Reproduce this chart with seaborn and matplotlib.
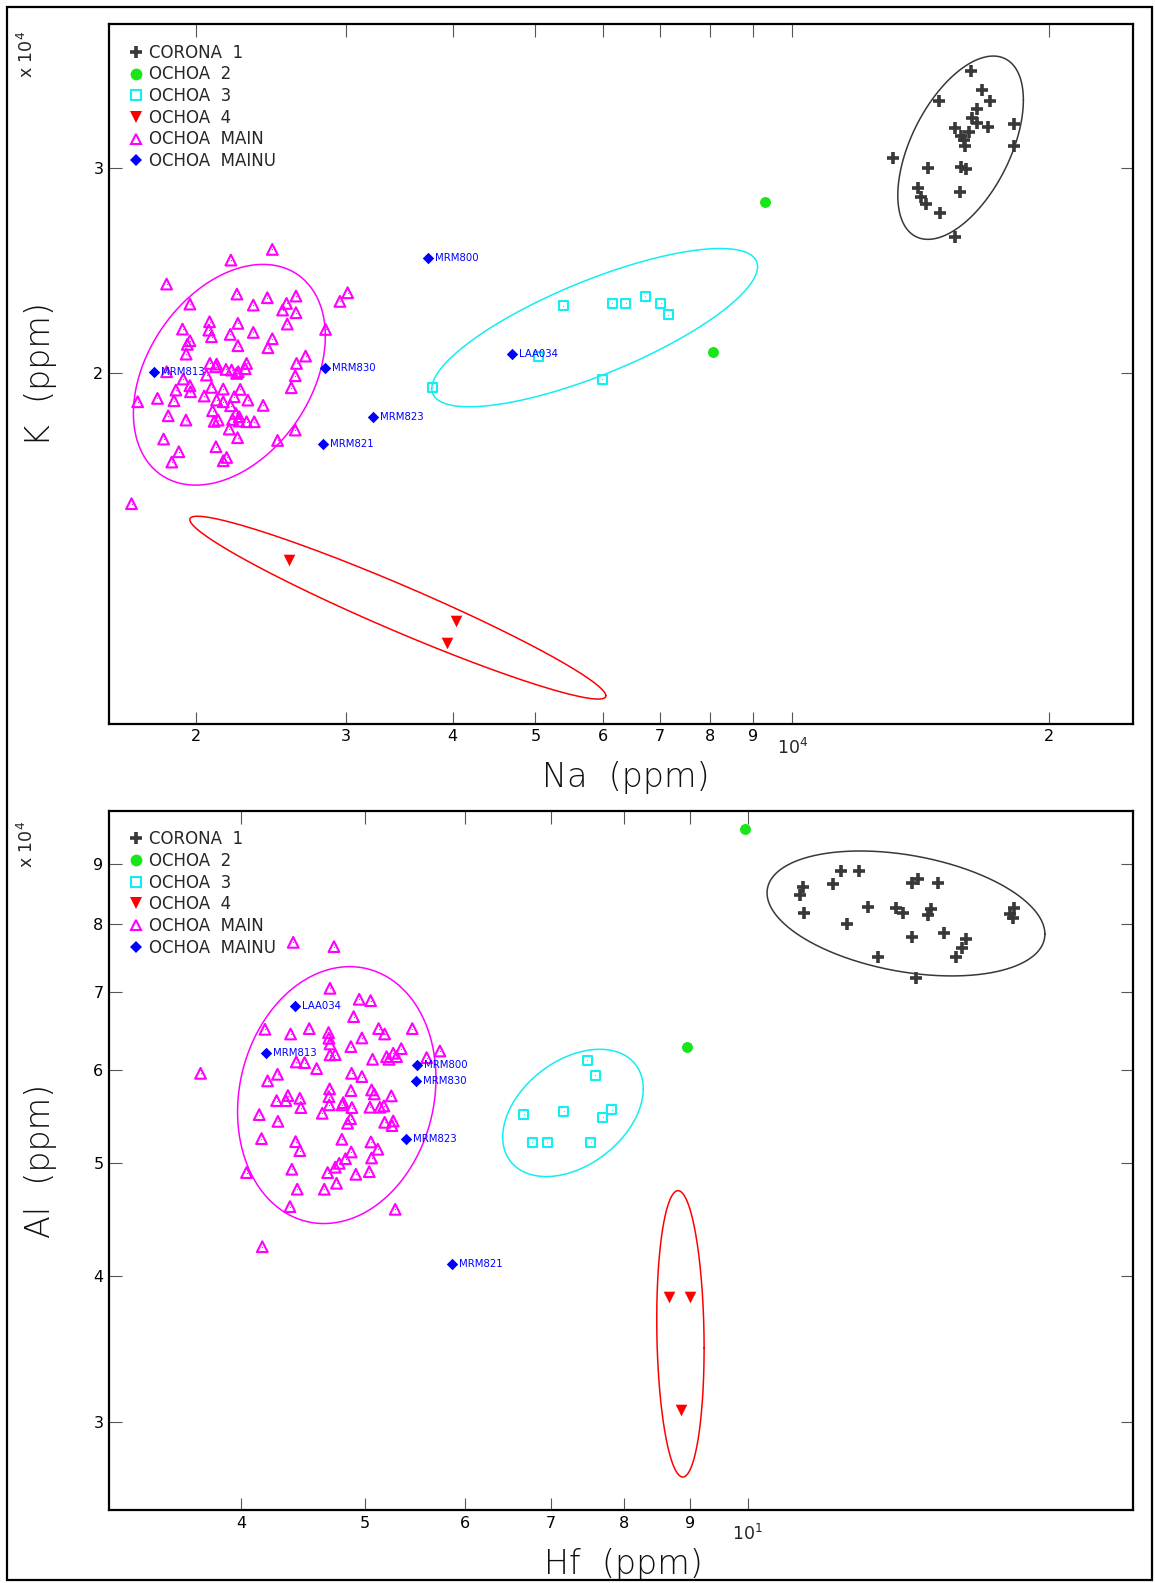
import numpy as np
import matplotlib
matplotlib.use("Agg")
import matplotlib.pyplot as plt
import matplotlib.transforms as mtransforms
import seaborn as sns
from matplotlib.lines import Line2D
from matplotlib.patches import Rectangle
from matplotlib.ticker import FixedLocator, FixedFormatter, NullLocator

sns.set_theme(style="white")
plt.rcParams['font.family'] = ['DejaVu Sans']

# ---------------- TOP PANEL: Na vs K (ppm) ----------------
corona_na = [16190, 16700, 14870, 17050, 16480, 16250, 16480, 16960, 18170, 15530, 16120, 15770, 15900,
             15930, 18170, 13120, 14440, 15770, 15970, 14040, 15730, 14170, 14340, 14900, 15530]
corona_k = [36270, 34980, 34190, 34190, 33690, 33070, 32770, 32520, 32690, 32410, 32190, 31900, 31690,
            31300, 31300, 30590, 29980, 30050, 29900, 28840, 28570, 28310, 27910, 27420, 26150]
ochoa2_na = [9302, 8072]
ochoa2_k = [28040, 20850]
ochoa3_na = [5390, 6150, 6380, 6722, 7013, 7159, 5040, 5986, 3790]
ochoa3_k = [22850, 22970, 22970, 23290, 22970, 22450, 20700, 19780, 19460]
ochoa4_na = [2570, 4040, 3942]
ochoa4_k = [13840, 12280, 11760]
main_na = [2458, 2198, 1848, 1968, 2234, 2425, 2335, 2620, 2554, 2527,
           2620, 2950, 3012, 2075, 2240, 2071, 1929, 2086, 2194, 2335,
           2559, 2838, 2458, 1968, 1954, 2240, 2429, 1948, 2689, 2624,
           2293, 2077, 2115, 2109, 2169, 2202, 2242, 2232, 2285, 2058,
           2615, 1933, 1895, 1968, 1971, 2086, 2153, 2254, 2587, 1803,
           1709, 1885, 2045, 2115, 2153, 2218, 2301, 2196, 2398, 2092,
           2228, 2248, 1856, 1947, 2101, 2124, 2208, 2293, 2341, 2246,
           2188, 2615, 1833, 2238, 2493, 1910, 2111, 1874, 2173, 2153,
           1681, 1848]
main_k = [25537, 25004, 23852, 22929, 23386, 23218, 22885, 23295, 22960, 22661,
          22543, 23051, 23447, 22145, 22074, 21784, 21827, 21501, 21600, 21685,
          22045, 21813, 21417, 21333, 21179, 21124, 21041, 20778, 20697, 20400,
          20400, 20400, 20373, 20266, 20161, 20135, 20069, 20003, 20188, 19938,
          19912, 19783, 19357, 19524, 19294, 19460, 19396, 19383, 19447, 19042,
          18917, 18954, 19131, 18979, 18917, 19105, 18979, 18769, 18782, 18584,
          18486, 18367, 18402, 18247, 18199, 18247, 18271, 18187, 18187, 18211,
          17927, 17892, 17577, 17624, 17529, 17143, 17313, 16798, 16952, 16842,
          15476, 20069]
mainu_names_top = ["MRM800", "LAA034", "MRM813", "MRM830", "MRM823", "MRM821"]
mainu_na = [3744, 4692, 1788, 2834, 3222, 2820]
mainu_k = [25130, 20770, 20040, 20200, 18350, 17400]
# ellipses: centre (ppm), half-extent in log10 decades (x, y), correlation
ell_top = {
    "corona": (15750, 31200, 0.0736, 0.0784, 0.52),
    "main": (2189, 19950, 0.1125, 0.0944, 0.35),
    "ochoa3": (5867, 21890, 0.1909, 0.0677, 0.77),
    "ochoa4": (3449, 12610, 0.2438, 0.0782, -0.963),
}

# ---------------- BOTTOM PANEL: Hf vs Al (ppm) ----------------
corona_hf = [11.83, 12.23, 11.67, 11.05, 10.99, 13.45, 13.61, 14.10, 11.07, 12.43, 13.07, 13.25, 13.92,
             13.86, 11.96, 13.45, 14.26, 14.84, 14.72, 14.57, 12.66, 16.06, 16.18, 16.14, 13.55]
corona_al = [88805, 88805, 86505, 85995, 84708, 86672, 87359, 86672, 81811, 82782, 82511, 81704, 82347,
             81437, 79957, 78040, 78553, 77633, 76270, 75027, 75027, 81544, 82511, 80906, 71996]
ochoa2_hf = [9.95, 8.96]
ochoa2_al = [96480, 62820]
ochoa3_hf = [7.48, 7.59, 6.67, 7.17, 7.82, 7.69, 6.77, 6.96, 7.53]
ochoa3_al = [61210, 59390, 55000, 55330, 55510, 54680, 52090, 52090, 52090]
ochoa4_hf = [8.677, 9.012, 8.866]
ochoa4_al = [38420, 38420, 30740]
main_hf = [4.395, 4.731, 4.697, 4.952, 5.055, 4.902, 4.176, 4.374, 4.524, 4.685,
           4.688, 4.697, 5.129, 5.185, 4.976, 5.451, 4.878, 5.343, 5.266, 5.203,
           5.298, 5.225, 5.730, 5.594, 4.697, 4.742, 4.419, 4.486, 5.073, 4.585,
           3.717, 4.272, 4.196, 4.884, 4.976, 4.694, 4.878, 5.064, 5.089, 5.248,
           4.353, 4.265, 4.337, 4.448, 4.456, 4.688, 4.691, 4.811, 4.802, 4.887,
           4.632, 5.049, 5.141, 5.178, 4.133, 4.275, 4.875, 4.849, 5.185, 5.266,
           5.254, 4.150, 4.414, 4.448, 4.799, 5.058, 5.122, 4.881, 4.831, 5.064,
           4.384, 4.039, 4.677, 4.742, 4.776, 4.922, 5.043, 4.753, 4.427, 4.649,
           4.369, 5.285, 4.156]
main_al = [77170, 76520, 70490, 68990, 68800, 66670, 65030, 64430, 65120, 64610,
           63890, 63180, 65120, 64430, 63930, 65120, 62850, 62600, 62030, 61620,
           61620, 61300, 62310, 61500, 61830, 61870, 60980, 60900, 61300, 60190,
           59630, 59520, 58750, 59630, 59250, 57830, 57640, 57710, 57260, 57040,
           57080, 56510, 56510, 56770, 55740, 56960, 56040, 56290, 56040, 55740,
           55120, 55780, 55780, 55920, 54980, 54250, 54540, 54050, 54150, 54290,
           53800, 52440, 52130, 51220, 52370, 52100, 51350, 51080, 50410, 50480,
           49370, 49050, 49050, 49570, 49950, 48880, 49140, 48030, 47470, 47470,
           45870, 45630, 42390]
mainu_names_bot = ["LAA034", "MRM813", "MRM800", "MRM830", "MRM823", "MRM821"]
mainu_hf = [4.411, 4.183, 5.500, 5.487, 5.388, 5.859]
mainu_al = [68130, 62110, 60620, 58780, 52380, 40990]
ell_bot = {
    "corona": (13.31, 81680, 0.1091, 0.0534, -0.33),
    "main": (4.755, 57130, 0.0779, 0.1098, 0.13),
    "ochoa3": (7.289, 55160, 0.0552, 0.0544, 0.38),
    "ochoa4": (8.852, 35710, 0.0186, 0.1224, -0.10),
}

legend_labels = ["CORONA  1", "OCHOA  2", "OCHOA  3", "OCHOA  4", "OCHOA  MAIN", "OCHOA  MAINU"]

# ticks
top_xt = [2000, 3000, 4000, 5000, 6000, 7000, 8000, 9000, 10000, 20000]
top_xl = ["2", "3", "4", "5", "6", "7", "8", "9", "", "2"]
top_yt = [20000, 30000]
top_yl = ["2", "3"]
bot_xt = [4, 5, 6, 7, 8, 9, 10]
bot_xl = ["4", "5", "6", "7", "8", "9", ""]
bot_yt = [30000, 40000, 50000, 60000, 70000, 80000, 90000]
bot_yl = ["3", "4", "5", "6", "7", "8", "9"]
decade_top = (10000, r"$\mathregular{10^{4}}$")
decade_bot = (10, r"$\mathregular{10^{1}}$")

C_COR = "#383838"
C_GRN = "#19e619"
C_CYN = "#12eef2"
C_RED = "#ff0000"
C_MAG = "#ff00ff"
C_BLU = "#0000ff"


def draw_ellipse(ax, params, color):
    cx, cy, sx, sy, rho = params
    t = np.linspace(0, 2 * np.pi, 500)
    S = np.array([[sx * sx, rho * sx * sy], [rho * sx * sy, sy * sy]])
    L = np.linalg.cholesky(S)
    pts = L @ np.vstack([np.cos(t), np.sin(t)])
    xs = 10 ** (np.log10(cx) + pts[0])
    ys = 10 ** (np.log10(cy) + pts[1])
    sns.lineplot(x=xs, y=ys, sort=False, estimator=None, ax=ax, color=color, lw=1.1, zorder=2)


def draw_panel(ax, cor, grn, cyn, red, mag, blu, names, ells):
    ax.set_xscale("log")
    ax.set_yscale("log")
    draw_ellipse(ax, ells["corona"], C_COR)
    draw_ellipse(ax, ells["main"], C_MAG)
    draw_ellipse(ax, ells["ochoa3"], C_CYN)
    draw_ellipse(ax, ells["ochoa4"], C_RED)
    sns.scatterplot(x=mag[0], y=mag[1], ax=ax, marker="^", s=60, facecolor="none",
                    edgecolor=C_MAG, linewidth=1.5, legend=False, zorder=3)
    sns.scatterplot(x=mag[0], y=mag[1], ax=ax, marker=".", s=3, color=C_MAG,
                    edgecolor=C_MAG, linewidth=0, legend=False, zorder=3)
    sns.scatterplot(x=cyn[0], y=cyn[1], ax=ax, marker="s", s=42, facecolor="none",
                    edgecolor=C_CYN, linewidth=1.5, legend=False, zorder=3)
    sns.scatterplot(x=cyn[0], y=cyn[1], ax=ax, marker=".", s=3, color=C_CYN,
                    edgecolor=C_CYN, linewidth=0, legend=False, zorder=3)
    sns.scatterplot(x=cor[0], y=cor[1], ax=ax, marker="+", s=70, color=C_COR,
                    linewidth=2.6, legend=False, zorder=3)
    sns.scatterplot(x=grn[0], y=grn[1], ax=ax, marker="o", s=62, color=C_GRN,
                    edgecolor=C_GRN, linewidth=0, legend=False, zorder=3)
    sns.scatterplot(x=red[0], y=red[1], ax=ax, marker="v", s=70, color=C_RED,
                    edgecolor=C_RED, linewidth=0, legend=False, zorder=3)
    sns.scatterplot(x=blu[0], y=blu[1], ax=ax, marker="D", s=34, color=C_BLU,
                    edgecolor=C_BLU, linewidth=0, legend=False, zorder=4)
    for nm, xv, yv in zip(names, blu[0], blu[1]):
        ax.annotate(nm, (xv, yv), xytext=(5, 0), textcoords="offset points",
                    ha="left", va="center", fontsize=7.3, color=C_BLU, zorder=5)

    handles = [
        Line2D([], [], ls="none", marker="+", ms=8.5, mew=2.6, color=C_COR),
        Line2D([], [], ls="none", marker="o", ms=8.5, mew=0, color=C_GRN),
        Line2D([], [], ls="none", marker="s", ms=6.5, mew=1.5, mfc="none", mec=C_CYN),
        Line2D([], [], ls="none", marker="v", ms=8.5, mew=0, color=C_RED),
        Line2D([], [], ls="none", marker="^", ms=7.5, mew=1.5, mfc="none", mec=C_MAG),
        Line2D([], [], ls="none", marker="D", ms=6.0, mew=0, color=C_BLU),
    ]
    ax.legend(handles, legend_labels, loc="upper left", bbox_to_anchor=(0.018, 0.972),
              frameon=False, fontsize=12, handlelength=1.0, handletextpad=0.3,
              labelspacing=0.22, borderpad=0, borderaxespad=0)

    for sp in ax.spines.values():
        sp.set_linewidth(1.6)
        sp.set_color("black")
    ax.tick_params(which="major", direction="in", length=9, width=0.8, color="#555555",
                   top=True, right=True, bottom=True, left=True, labelsize=11.5, pad=4,
                   labelcolor="black")
    ax.tick_params(which="minor", length=0)
    ax.grid(False)
    ax.set_facecolor("white")


fig = plt.figure(figsize=(11.55, 15.83), dpi=100)
fig.patch.set_facecolor("white")
ax1 = fig.add_axes([0.0944, 0.5427, 0.8864, 0.4420])
ax2 = fig.add_axes([0.0944, 0.0459, 0.8864, 0.4420])

draw_panel(ax1, (corona_na, corona_k), (ochoa2_na, ochoa2_k), (ochoa3_na, ochoa3_k),
           (ochoa4_na, ochoa4_k), (main_na, main_k), (mainu_na, mainu_k), mainu_names_top, ell_top)
draw_panel(ax2, (corona_hf, corona_al), (ochoa2_hf, ochoa2_al), (ochoa3_hf, ochoa3_al),
           (ochoa4_hf, ochoa4_al), (main_hf, main_al), (mainu_hf, mainu_al), mainu_names_bot, ell_bot)

# limits
ax1.set_xlim(1582, 25070)
ax1.set_ylim(10030, 39790)
ax2.set_xlim(3.15, 20.06)
ax2.set_ylim(25230, 100000)

for ax, xt, xl, yt, yl, dec in [(ax1, top_xt, top_xl, top_yt, top_yl, decade_top),
                                (ax2, bot_xt, bot_xl, bot_yt, bot_yl, decade_bot)]:
    ax.xaxis.set_major_locator(FixedLocator(xt))
    ax.xaxis.set_major_formatter(FixedFormatter(xl))
    ax.yaxis.set_major_locator(FixedLocator(yt))
    ax.yaxis.set_major_formatter(FixedFormatter(yl))
    ax.xaxis.set_minor_locator(NullLocator())
    ax.yaxis.set_minor_locator(NullLocator())
    trans = mtransforms.blended_transform_factory(ax.transData, ax.transAxes)
    ax.text(dec[0], -0.02, dec[1], transform=trans, ha="center", va="top",
            fontsize=12.5, clip_on=False)

# axis labels
lab_kw = dict(fontsize=24, fontweight="light", color="#111111")
ax1.set_xlabel("Na  (ppm)", **lab_kw)
ax1.xaxis.set_label_coords(0.505, -0.077)
ax1.xaxis.label.set_va("center")
ax1.set_ylabel("K  (ppm)", **lab_kw)
ax1.yaxis.set_label_coords(-0.067, 0.50)
ax1.yaxis.label.set_va("center")
ax2.set_xlabel("Hf  (ppm)", **lab_kw)
ax2.xaxis.set_label_coords(0.502, -0.078)
ax2.xaxis.label.set_va("center")
ax2.set_ylabel("Al  (ppm)", **lab_kw)
ax2.yaxis.set_label_coords(-0.067, 0.50)
ax2.yaxis.label.set_va("center")

# x 10^4 multipliers
fig.text(0.0235, 0.9655, r"x $\mathregular{10^{4}}$", rotation=90, ha="center", va="center", fontsize=12.5)
fig.text(0.0235, 0.4665, r"x $\mathregular{10^{4}}$", rotation=90, ha="center", va="center", fontsize=12.5)

# outer frame
fig.add_artist(Rectangle((7 / 1155, 1 - 1580 / 1583), 1145 / 1155, 1573 / 1583,
                         transform=fig.transFigure, fill=False, lw=1.6, edgecolor="black"))

fig.savefig("out.png", dpi=100, facecolor="white")
